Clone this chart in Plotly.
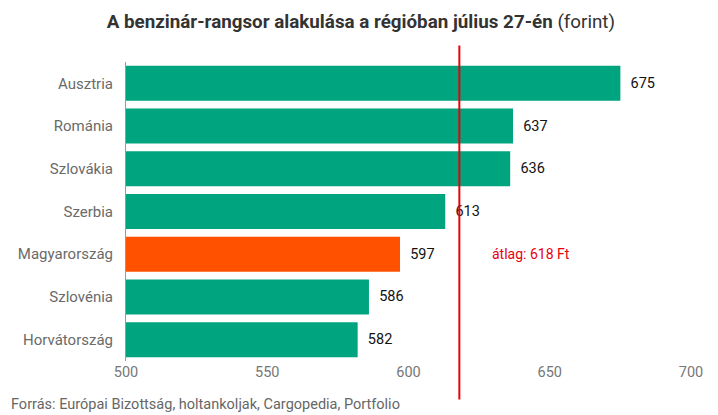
import plotly.graph_objects as go

countries = ["Ausztria", "Románia", "Szlovákia", "Szerbia", "Magyarország", "Szlovénia", "Horvátország"]
prices = [675, 637, 636, 613, 597, 586, 582]
highlight = "Magyarország"
average = 618
x_ticks = [500, 550, 600, 650, 700]

colors = ["#FF5100" if c == highlight else "#00A47E" for c in countries]

fig = go.Figure()
fig.add_trace(go.Bar(
    y=countries, x=[p - 500 for p in prices], base=500, orientation="h",
    marker=dict(color=colors, line=dict(width=0)),
    text=["  " + str(p) for p in prices], textposition="outside",
    textfont=dict(family="Roboto", size=14.5, color="#111111"),
    cliponaxis=False, hoverinfo="skip",
))

fig.add_shape(type="line", xref="x", yref="paper", x0=average, x1=average,
              y0=-0.129, y1=1.055, line=dict(color="#E8000B", width=2))
fig.add_annotation(x=629, y="Magyarország", xref="x", yref="y", text="átlag: 618 Ft",
                   showarrow=False, xanchor="left",
                   font=dict(family="Roboto", size=14, color="#E8000B"))
fig.add_annotation(x=-0.207, y=-0.145, xref="paper", yref="paper", yanchor="middle",
                   xanchor="left", text="Forrás: Európai Bizottság, holtankoljak, Cargopedia, Portfolio",
                   showarrow=False, font=dict(family="Roboto", size=14.5, color="#666666"))

fig.update_layout(
    width=710, height=407,
    margin=dict(l=118, r=27, t=54, b=54, autoexpand=False),
    paper_bgcolor="white", plot_bgcolor="white",
    bargap=0.18, showlegend=False,
    title=dict(text="<b>A benzinár-rangsor alakulása a régióban július 27-én</b> (forint)",
               x=0.497, xanchor="center", xref="container", y=0.966, yanchor="middle",
               font=dict(family="Roboto", size=18.8, color="#333333")),
    xaxis=dict(range=[500, 700], tickvals=x_ticks, showgrid=False, zeroline=False,
               showline=False, ticks="", automargin=False,
               tickfont=dict(family="Roboto", size=14.5, color="#777777")),
    yaxis=dict(autorange="reversed", showgrid=False, zeroline=False, showline=True,
               linecolor="#999999", linewidth=1, ticks="", ticklabelstandoff=9, automargin=False,
               tickfont=dict(family="Roboto", size=15, color="#6a6a6a")),
)

fig.write_html("out.html")
